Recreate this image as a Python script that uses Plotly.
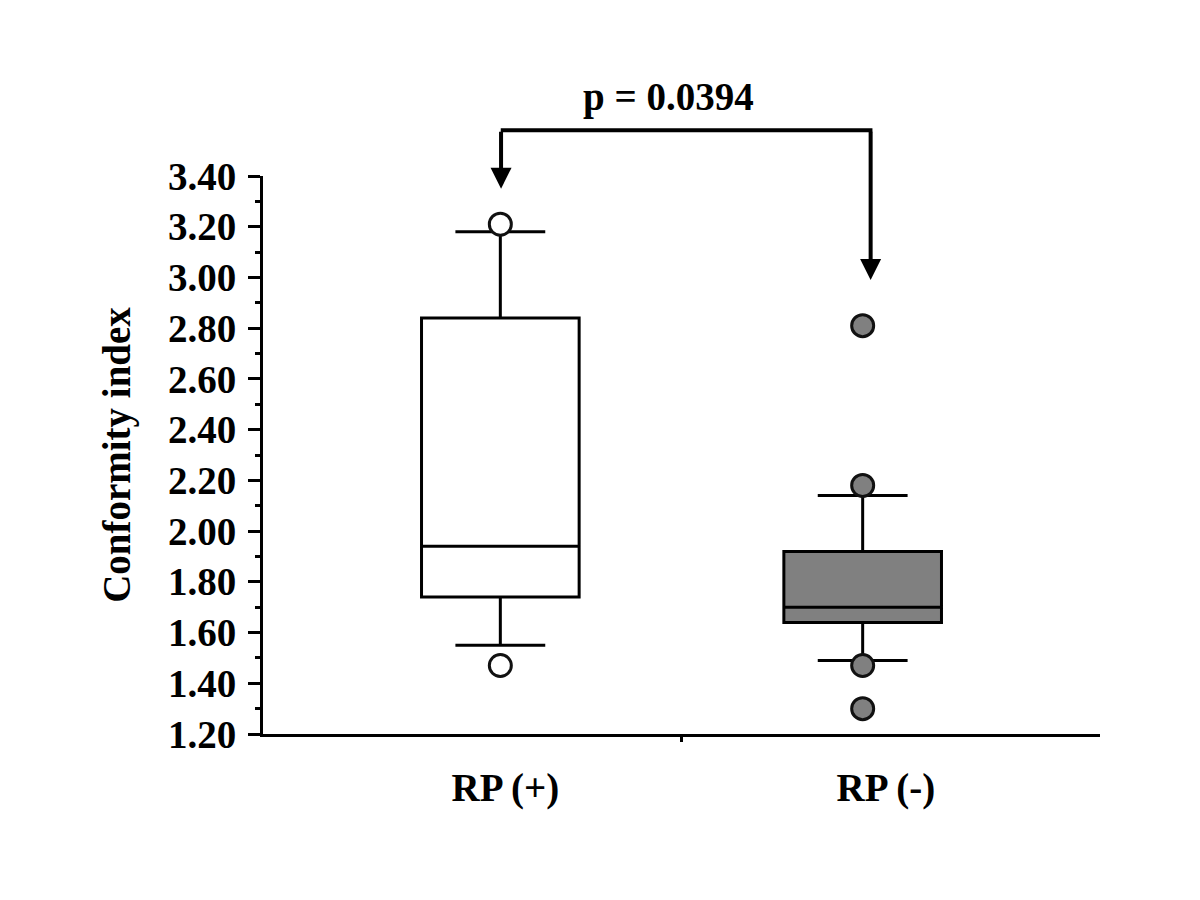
import plotly.graph_objects as go

# values
groups = ["RP (+)", "RP (-)"]
q1 = [1.74, 1.64]
medians = [1.94, 1.70]
q3 = [2.84, 1.92]
lower_whisker = [1.55, 1.49]
upper_whisker = [3.18, 2.14]
outliers = [[3.21, 1.47], [2.81, 2.18, 1.47, 1.30]]
p_label = "p = 0.0394"

# layout constants
box_x = [0, 1]
label_x = [0.014, 1.064]
arrow_x = [0.002, 1.022]
arrow_tip = [3.35, 2.99]
bracket_y = 3.58
text_y = 3.71
y_min, y_max = 1.2, 3.4

fills = ["white", "#808080"]
font = dict(family="Liberation Serif", size=39, color="black", weight="bold")


def to_paper(v):
    return (v - y_min) / (y_max - y_min)


fig = go.Figure()

for i, g in enumerate(groups):
    fig.add_trace(go.Box(
        x=[box_x[i]],
        q1=[q1[i]], median=[medians[i]], q3=[q3[i]],
        lowerfence=[lower_whisker[i]], upperfence=[upper_whisker[i]],
        name=g,
        width=0.435,
        whiskerwidth=0.57,
        fillcolor=fills[i],
        line=dict(color="black", width=3),
        boxpoints=False,
        showlegend=False,
    ))

for i, g in enumerate(groups):
    fig.add_trace(go.Scatter(
        x=[box_x[i]] * len(outliers[i]),
        y=outliers[i],
        mode="markers",
        marker=dict(size=22, color=fills[i], line=dict(color="#111111", width=3)),
        cliponaxis=False,
        showlegend=False,
    ))

# significance bracket
for i in range(2):
    fig.add_annotation(
        x=arrow_x[i], y=arrow_tip[i], xref="x", yref="y",
        ax=arrow_x[i], ay=bracket_y, axref="x", ayref="y",
        text="", showarrow=True, arrowhead=2, arrowsize=1.05,
        arrowwidth=4, arrowcolor="black", standoff=0,
    )
fig.add_annotation(
    x=arrow_x[1] + 0.005, y=to_paper(bracket_y), xref="x", yref="paper",
    ax=arrow_x[0] - 0.005, ay=0, axref="x", ayref="pixel",
    text="", showarrow=True, arrowhead=0, arrowwidth=4, arrowcolor="black",
)
fig.add_annotation(
    x=0.464, y=to_paper(text_y), xref="x", yref="paper",
    text=p_label, showarrow=False, font=font, yanchor="middle",
)

fig.update_layout(
    width=1200, height=900,
    margin=dict(l=255, r=108, t=168, b=174),
    paper_bgcolor="white", plot_bgcolor="white",
    font=font,
)
fig.update_xaxes(
    range=[-0.655, 1.655],
    showline=True, linecolor="black", linewidth=3,
    showgrid=False, zeroline=False,
    tickmode="array", tickvals=label_x, ticktext=groups,
    ticks="", ticklabelstandoff=17,
    tickfont=font,
    minor=dict(tickmode="array", tickvals=[0.5], ticks="outside",
               ticklen=5, tickwidth=3, tickcolor="black"),
)
fig.update_yaxes(
    range=[y_min, y_max],
    showline=True, linecolor="black", linewidth=3,
    showgrid=False, zeroline=False,
    tick0=1.2, dtick=0.2, tickformat=".2f",
    ticks="outside", ticklen=12, tickwidth=3, tickcolor="black",
    ticklabelstandoff=4,
    tickfont=font,
    minor=dict(dtick=0.1, ticks="outside", ticklen=5, tickwidth=3,
               tickcolor="black", showgrid=False),
    title=dict(text="Conformity index", font=font, standoff=26),
)

fig.write_html("out.html")
